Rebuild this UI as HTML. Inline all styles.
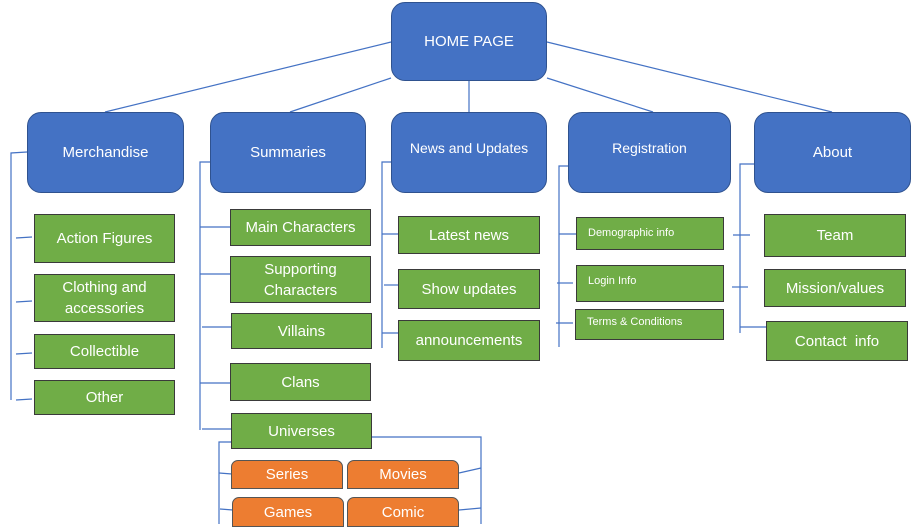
<!DOCTYPE html>
<html><head><meta charset="utf-8"><style>
body{margin:0;width:922px;height:524px;background:#fff;position:relative;overflow:hidden;font-family:"Liberation Sans",Calibri,sans-serif;}
.b{position:absolute;box-sizing:border-box;display:flex;align-items:center;justify-content:center;text-align:center;color:#fff;}
.blue{background:#4472c4;border:1.5px solid #2f528f;border-radius:14px;font-size:15px;}
.g{background:#70ad47;border:1.5px solid #3a3a3a;font-size:15px;line-height:21px;}
.o{background:#ed7d31;border:1.5px solid #555;border-radius:7px 7px 0 0;font-size:15px;}
svg{position:absolute;left:0;top:0}
</style></head><body>
<svg width="922" height="524" stroke="#4472c4" stroke-width="1.2" fill="none">
<line x1="391" y1="42" x2="105" y2="112"/>
<line x1="391" y1="78" x2="290" y2="112"/>
<line x1="469" y1="80" x2="469" y2="112"/>
<line x1="547" y1="78" x2="653" y2="112"/>
<line x1="547" y1="42" x2="832" y2="112"/>
<!-- merch -->
<polyline points="27,152 11,153 11,400"/>
<line x1="16" y1="238" x2="32" y2="237"/><line x1="16" y1="302" x2="32" y2="301"/>
<line x1="16" y1="354" x2="32" y2="353"/><line x1="16" y1="400" x2="32" y2="399"/>
<!-- summaries -->
<polyline points="210,162 200,162 200,430"/>
<line x1="200" y1="227" x2="230" y2="227"/><line x1="200" y1="274" x2="230" y2="274"/>
<line x1="202" y1="327" x2="231" y2="327"/><line x1="200" y1="383" x2="230" y2="383"/>
<line x1="202" y1="429" x2="231" y2="429"/>
<polyline points="232,442 219,442 219,524"/>
<line x1="219" y1="473" x2="232" y2="474"/><line x1="220" y1="509" x2="233" y2="510"/>
<polyline points="372,437 481,437 481,524"/>
<line x1="459" y1="473" x2="481" y2="468"/><line x1="459" y1="510" x2="481" y2="508"/>
<!-- news -->
<polyline points="391,162 382,162 382,348"/>
<line x1="382" y1="234" x2="399" y2="234"/><line x1="384" y1="285" x2="399" y2="285"/>
<line x1="382" y1="333" x2="399" y2="333"/>
<!-- reg -->
<polyline points="575,166 559,166 559,347"/>
<line x1="559" y1="234" x2="577" y2="234"/><line x1="557" y1="283" x2="573" y2="283"/>
<line x1="556" y1="323" x2="573" y2="323"/>
<!-- about -->
<polyline points="754,164 740,164 740,333"/>
<line x1="733" y1="235" x2="750" y2="235"/><line x1="732" y1="287" x2="748" y2="287"/>
<line x1="740" y1="327" x2="766" y2="327"/>
</svg>
<div class="b blue" style="left:391px;top:2px;width:156px;height:79px;">HOME PAGE</div>
<div class="b blue" style="left:27px;top:112px;width:157px;height:81px;">Merchandise</div>
<div class="b blue" style="left:210px;top:112px;width:156px;height:81px;">Summaries</div>
<div class="b blue" style="left:391px;top:112px;width:156px;height:81px;font-size:14px;padding-bottom:10px;">News and Updates</div>
<div class="b blue" style="left:568px;top:112px;width:163px;height:81px;font-size:14px;padding-bottom:10px;">Registration</div>
<div class="b blue" style="left:754px;top:112px;width:157px;height:81px;">About</div>

<div class="b g" style="left:34px;top:214px;width:141px;height:49px;">Action Figures</div>
<div class="b g" style="left:34px;top:274px;width:141px;height:48px;">Clothing and<br>accessories</div>
<div class="b g" style="left:34px;top:334px;width:141px;height:35px;">Collectible</div>
<div class="b g" style="left:34px;top:380px;width:141px;height:35px;">Other</div>

<div class="b g" style="left:230px;top:209px;width:141px;height:37px;">Main Characters</div>
<div class="b g" style="left:230px;top:256px;width:141px;height:47px;">Supporting<br>Characters</div>
<div class="b g" style="left:231px;top:313px;width:141px;height:36px;">Villains</div>
<div class="b g" style="left:230px;top:363px;width:141px;height:38px;">Clans</div>
<div class="b g" style="left:231px;top:413px;width:141px;height:36px;">Universes</div>

<div class="b o" style="left:231px;top:460px;width:112px;height:29px;">Series</div>
<div class="b o" style="left:347px;top:460px;width:112px;height:29px;">Movies</div>
<div class="b o" style="left:232px;top:497px;width:112px;height:30px;">Games</div>
<div class="b o" style="left:347px;top:497px;width:112px;height:30px;">Comic</div>

<div class="b g" style="left:398px;top:216px;width:142px;height:38px;">Latest news</div>
<div class="b g" style="left:398px;top:269px;width:142px;height:40px;">Show updates</div>
<div class="b g" style="left:398px;top:320px;width:142px;height:41px;">announcements</div>

<div class="b g" style="left:576px;top:217px;width:148px;height:33px;font-size:11px;justify-content:flex-start;padding-left:11px;">Demographic info</div>
<div class="b g" style="left:576px;top:265px;width:148px;height:37px;font-size:11px;justify-content:flex-start;padding-left:11px;padding-bottom:4px;">Login Info</div>
<div class="b g" style="left:575px;top:309px;width:149px;height:31px;font-size:11px;justify-content:flex-start;padding-left:11px;padding-bottom:4px;">Terms &amp; Conditions</div>

<div class="b g" style="left:764px;top:214px;width:142px;height:43px;">Team</div>
<div class="b g" style="left:764px;top:269px;width:142px;height:38px;">Mission/values</div>
<div class="b g" style="left:766px;top:321px;width:142px;height:40px;">Contact&nbsp; info</div>
</body></html>
